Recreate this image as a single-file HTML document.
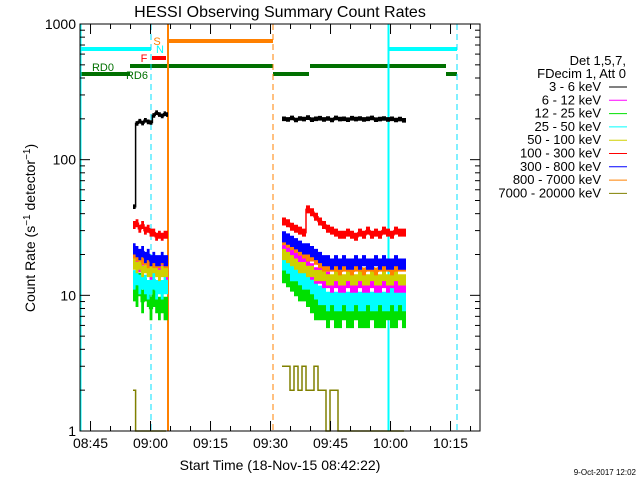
<!DOCTYPE html>
<html><head><meta charset="utf-8"><style>
body{margin:0;background:#fff;}
svg{display:block;font-family:"Liberation Sans",sans-serif;}
</style></head><body>
<svg id="c" width="640" height="480" viewBox="0 0 640 480">
<rect width="640" height="480" fill="#fff"/>
<text x="280" y="17" font-size="16" text-anchor="middle">HESSI Observing Summary Count Rates</text>
<text transform="translate(35,228) rotate(-90)" font-size="14" text-anchor="middle">Count Rate (s<tspan dy="-5" font-size="10">−1</tspan><tspan dy="5"> detector</tspan><tspan dy="-5" font-size="10">−1</tspan><tspan dy="5">)</tspan></text>
<text x="280" y="470" font-size="14" text-anchor="middle">Start Time (18-Nov-15 08:42:22)</text>
<text x="636" y="475" font-size="8" text-anchor="end">9-Oct-2017 12:02</text>
<g id="marks"></g>
<g id="axes"></g>
<g id="legend"></g>
</svg>
<script>
const seriesNames=["3 - 6 keV","6 - 12 keV","12 - 25 keV","25 - 50 keV","50 - 100 keV","100 - 300 keV","300 - 800 keV","800 - 7000 keV","7000 - 20000 keV"];
const seriesColors=["#000","#ff00ff","#00e000","#00ffff","#d0d000","#ff0000","#0000ff","#ff8000","#808000"];
const seriesSpread=[1.04,1.15,1.22,1.18,1.1,1.07,1.1,1.07,1.0];
const xTickLabels=["08:45","09:00","09:15","09:30","09:45","10:00","10:15"];
const xTickMinutes=[2.63,17.63,32.63,47.63,62.63,77.63,92.63];
const yTickValues=[1,10,100,1000];
const yTickLabels=["1","10","100","1000"];
// minutes since 08:42:22
const seg1Times=[13.25,13.9,14.6,15.3,16,16.7,17.4,18.1,18.8,19.5,20.2,20.9,21.5];
const seg2Times=[50.5,51.5,52.5,53.5,54.5,55.5,56.5,57.5,58.5,59.5,60.5,61.5,62.5,63.5,64.5,65.5,66.5,67.5,68.5,69.5,70.5,71.5,72.5,73.5,74.5,75.5,76.5,77.5,78.5,79.5,80.5,81];
const seg1Values=[
[45,185,192,186,195,190,188,212,222,215,210,218,215],
[18,18,17,19,17,16,15,17,16,15,17,16,15],
[11,10,12,9,11,10,8,10,9,8,9,8,8],
[13,14,12,13,12,11,12,13,11,12,11,12,12],
[17,16,17,15,16,15,15,16,15,14,15,15,15],
[33,34,31,33,30,31,29,29,27,28,27,28,28],
[22,21,20,21,19,20,18,19,18,18,19,18,18],
[20,19,19,18,18,17,18,17,17,17,18,17,17],
[2,1,1,1,1,1,1,1,1,1,1,1,1]];
const seg2Values=[
[200,198,203,196,201,199,204,197,200,202,198,201,196,203,199,200,197,202,199,201,198,200,203,197,199,201,198,200,196,199,195,195],
[22,21,20,19,18,18,17,15,14,14,13,13,12,13,12,12,13,12,12,13,12,12,13,12,12,13,12,13,12,12,12,12],
[15,14,13,12,11,11,10,9,8,8,8,7,8,7,7,8,7,7,8,7,7,7,8,7,7,7,8,7,7,8,7,7],
[18,17,15,15,14,13,13,12,11,10,10,9,10,9,9,10,9,9,10,9,9,10,9,9,10,9,9,10,9,10,9,9],
[20,19,18,17,16,16,15,15,14,14,14,13,13,14,13,13,14,13,13,14,13,13,14,13,13,14,13,13,14,13,13,13],
[35,34,32,31,30,29,43,41,38,35,33,31,30,29,28,28,29,28,27,29,28,30,28,29,28,30,29,28,30,29,29,29],
[27,26,25,24,23,22,22,21,20,19,18,18,17,18,17,18,17,17,18,17,18,17,17,18,17,18,17,17,18,17,17,17],
[25,24,23,22,21,20,19,19,18,17,16,16,16,16,15,16,16,15,16,16,15,16,16,15,16,16,16,15,16,16,16,16],
[3,3,2,3,2,3,2,2,3,2,2,1,2,2,1,1,1,1,1,1,1,1,1,1,1,1,1,1,1,1,1,1]];
const NS="http://www.w3.org/2000/svg";
const X0=80,X1=480,Y0=24,Y1=431;
const xs=m=>X0+m*4;
const ys=v=>Y1-(Y1-Y0)/3*Math.log10(Math.max(v,1));
function mk(tag,attrs,parent){const e=document.createElementNS(NS,tag);for(const k in attrs)e.setAttribute(k,attrs[k]);parent.appendChild(e);return e;}
const marks=document.getElementById('marks'),axes=document.getElementById('axes'),leg=document.getElementById('legend');
function hl(x1,x2,y,c,w,n){const l=mk('line',{x1:x1,x2:x2,y1:y,y2:y,stroke:c,'stroke-width':w},marks);

}
function vl(x,c,dash,n){const l=mk('line',{x1:x,x2:x,y1:Y0,y2:Y1,stroke:c,'stroke-width':dash?1:2,'stroke-dasharray':dash?'6,4':'none'},marks);

}
hl(80,151,49,'#00ffff',4,'saa-bar');hl(388,457,49,'#00ffff',4,'saa-bar');
hl(168,273,41,'#ff8000',4,'flare-bar');
hl(152,166,58,'#ff0000',4,'flag-f-bar');
hl(130,273,66,'#007000',4,'rd0-bar');hl(310,446,66,'#007000',4,'rd0-bar');
hl(80,130,74,'#007000',4,'rd6-bar');hl(273,309,74,'#007000',4,'rd6-bar');hl(446,457,74,'#007000',4,'rd6-bar');
vl(80.5,'#00ffff',false,'saa-start-line');vl(388.5,'#00ffff',false,'saa-start-line');
vl(151,'#00e0ff',true,'saa-end-line');vl(457,'#00e0ff',true,'saa-end-line');
vl(168,'#ff8000',false,'night-start-line');vl(273,'#ff8000',true,'night-end-line');
[['RD0',103,71,'#007000'],['RD6',137,79,'#007000'],['F',144,62,'#ff0000'],['S',157,45,'#ff8000'],['N',160,53,'#00ffff']].forEach(a=>{
const t=mk('text',{x:a[1],y:a[2],fill:a[3],'font-size':11,'text-anchor':'middle'},marks);t.textContent=a[0];

});
function stepPath(times,vals){let d='';for(let i=0;i<times.length;i++){const x=xs(times[i]).toFixed(1),y=ys(vals[i]).toFixed(1);d+=(i?'L'+x+' '+(ys(vals[i-1])).toFixed(1)+'L':'M')+x+' '+y;}return d;}
function bandPath(times,vals,sp){let top='',bot=[];for(let i=0;i<times.length;i++){const xa=xs(times[i]),xb=xs(i<times.length-1?times[i+1]:times[i]+0.5);
const yt=ys(vals[i]*sp),yb=ys(vals[i]/sp);top+=(i?'L':'M')+xa.toFixed(1)+' '+yt.toFixed(1)+'L'+xb.toFixed(1)+' '+yt.toFixed(1);
bot.unshift('L'+xb.toFixed(1)+' '+yb.toFixed(1)+'L'+xa.toFixed(1)+' '+yb.toFixed(1));}return top+bot.join('')+'Z';}
const order=[8,2,3,1,4,7,6,5,0];
order.forEach(s=>{
[[seg1Times,seg1Values[s],1],[seg2Times,seg2Values[s],2]].forEach(g=>{
if(seriesSpread[s]>1.001){const b=mk('path',{d:bandPath(g[0],g[1],seriesSpread[s]),fill:seriesColors[s],stroke:'none'},marks);

}
const p=mk('path',{d:stepPath(g[0],g[1]),fill:'none',stroke:seriesColors[s],'stroke-width':1.5},marks);

});});
const fr=mk('rect',{x:X0,y:Y0,width:X1-X0,height:Y1-Y0,fill:'none',stroke:'#000','stroke-width':1},axes);


for(let m=2.63;m<=100;m+=5){const x=xs(m);const major=xTickMinutes.some(t=>Math.abs(t-m)<0.01);const L=major?10:5;
mk('line',{x1:x,x2:x,y1:Y1,y2:Y1-L,stroke:'#000'},axes);mk('line',{x1:x,x2:x,y1:Y0,y2:Y0+L,stroke:'#000'},axes);}
xTickLabels.forEach((lab,i)=>{const t=mk('text',{x:xs(xTickMinutes[i]),y:448,'font-size':14,'text-anchor':'middle'},axes);t.textContent=lab;

});
for(let d=0;d<3;d++)for(let k=1;k<10;k++){const y=ys(k*Math.pow(10,d));const L=k==1?10:5;
mk('line',{x1:X0,x2:X0+L,y1:y,y2:y,stroke:'#000'},axes);mk('line',{x1:X1,x2:X1-L,y1:y,y2:y,stroke:'#000'},axes);}
mk('line',{x1:X0,x2:X0+10,y1:Y0,y2:Y0,stroke:'#000'},axes);
yTickValues.forEach((v,i)=>{const t=mk('text',{x:76,y:ys(v)+5,'font-size':14,'text-anchor':'end'},axes);t.textContent=yTickLabels[i];

});
[['Det 1,5,7,',626,65],['FDecim 1, Att 0',626,78]].forEach(a=>{const t=mk('text',{x:a[1],y:a[2],'font-size':13,'text-anchor':'end'},leg);t.textContent=a[0];

});
seriesNames.forEach((n,i)=>{const y=91+i*13.3;
const t=mk('text',{x:601,y:y,'font-size':13,'text-anchor':'end'},leg);t.textContent=n;


const l=mk('line',{x1:609,x2:627,y1:y-4,y2:y-4,stroke:seriesColors[i],'stroke-width':1},leg);

});
</script>
</body></html>
